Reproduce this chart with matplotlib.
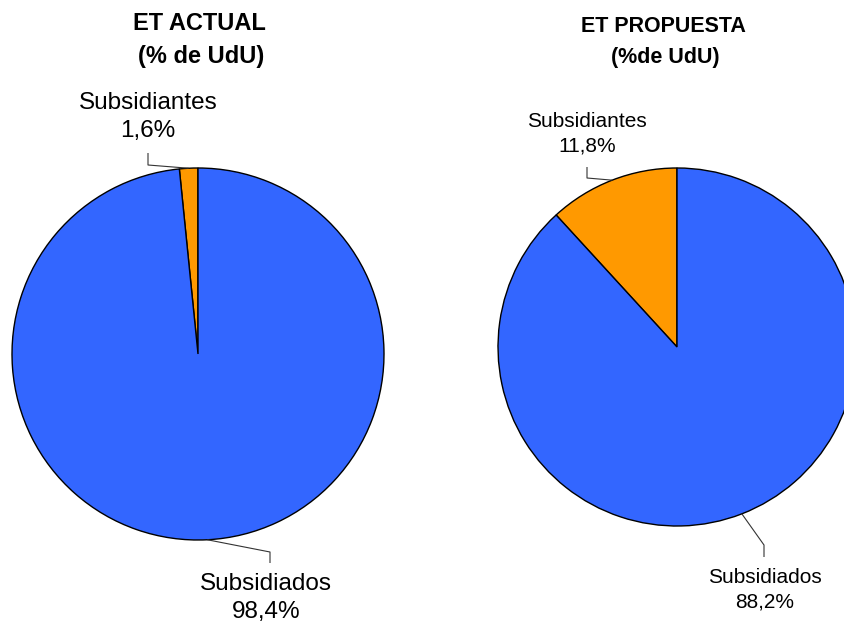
import numpy as np
import matplotlib
matplotlib.use("Agg")
import matplotlib.pyplot as plt

# data
categorias = ["Subsidiantes", "Subsidiados"]
actual = [1.6, 98.4]
propuesta = [11.8, 88.2]
colores = ["#FF9900", "#3366FF"]

W, H = 845, 631

plt.rcParams['font.family'] = ['Liberation Sans', 'DejaVu Sans']

fig = plt.figure(figsize=(W / 100, H / 100), dpi=100)
ax = fig.add_axes([0, 0, 1, 1])


def pct(v):
    return f"{v:.1f}%".replace(".", ",")


def leader(cx, cy, r, ang, elbow_x, y0, y1):
    # line from label down/up to the mid point of the wedge
    a = np.deg2rad(ang)
    px = cx + r * np.cos(a)
    py = (H - cy) + r * np.sin(a)
    ax.plot([elbow_x, elbow_x, px], [H - y0, H - y1, py],
            color="#333333", lw=0.8, solid_capstyle="butt")


def draw_pie(vals, cx, cy, r, titulo, subt, tx, ty, dy, fs_t, fs_l, lab_pos, elbows):
    ax.pie(vals, colors=colores, startangle=90, counterclock=True,
           center=(cx, H - cy), radius=r,
           wedgeprops=dict(edgecolor="black", linewidth=1.0))
    ax.text(tx, H - ty, titulo, ha="center", va="center",
            fontsize=fs_t, fontweight="bold")
    ax.text(tx + 2, H - ty - dy, subt, ha="center", va="center",
            fontsize=fs_t, fontweight="bold")
    start = 90
    for i, v in enumerate(vals):
        span = v / 100 * 360
        mid = start + span / 2
        start += span
        lx, ly = lab_pos[i]
        ax.text(lx, H - ly, categorias[i] + "\n" + pct(v), ha="center",
                va="center", fontsize=fs_l, linespacing=1.35)
        ex, e0, e1 = elbows[i]
        leader(cx, cy, r, mid, ex, e0, e1)


draw_pie(actual, 198, 354, 186, "ET ACTUAL", "(% de UdU)", 199, 23, 34, 17, 17.5,
         [(148, 117), (266, 598)],
         [(148, 153, 165), (270, 563, 552)])
draw_pie(propuesta, 677, 347, 179, "ET PROPUESTA", "(%de UdU)", 663, 26, 31, 15.5, 15,
         [(587, 134), (765, 590)],
         [(587, 167, 178), (764, 557, 545)])

ax.set_xlim(0, W)
ax.set_ylim(0, H)
ax.set_aspect("equal")
ax.axis("off")

fig.savefig("out.png", dpi=100)
